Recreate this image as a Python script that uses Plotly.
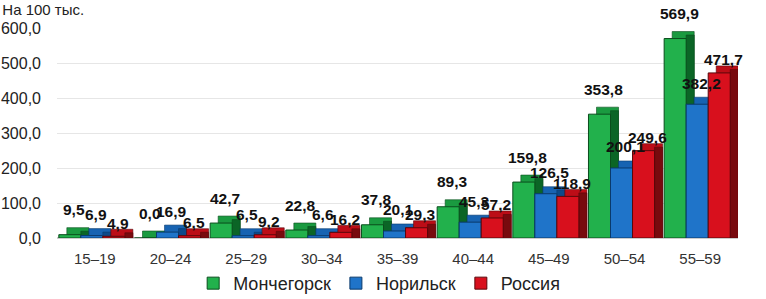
import plotly.graph_objects as go

categories = ["15–19", "20–24", "25–29", "30–34", "35–39", "40–44", "45–49", "50–54", "55–59"]
monchegorsk = [9.5, 0.0, 42.7, 22.8, 37.8, 89.3, 159.8, 353.8, 569.9]
norilsk = [6.9, 16.9, 6.5, 6.6, 20.1, 45.3, 126.5, 200.1, 382.2]
russia = [4.9, 6.5, 9.2, 16.2, 29.3, 57.2, 118.9, 249.6, 471.7]
y_ticks = [0, 100, 200, 300, 400, 500, 600]

# name, values, front colour, top colour, side colour, edge colour, label lift (px)
series = [
    ("Мончегорск", monchegorsk, "#22b14c", "#1a9a40", "#0b6526", "#0a4d1c", 25),
    ("Норильск", norilsk, "#1f74c9", "#1763b2", "#0c4a8a", "#0a3a6c", 21),
    ("Россия", russia, "#d8101d", "#bc0d17", "#780a0e", "#5a070a", 13),
]

W, H = 766, 299
ML, MR, MT, MB = 57, 28, 28, 61
Y_MAX = 600
slot_px = (W - ML - MR) / len(categories)
plot_h = H - MT - MB
units_per_px = Y_MAX / plot_h

BAR_W = 0.291        # front face width (category units)
GROUP_OFF = -0.476   # left edge of first bar from category centre
DX = 0.106           # 3D depth, horizontal (category units)
DY_PX = 7            # 3D depth, vertical (pixels)
DY = DY_PX * units_per_px

def fmt(v):
    return f"{v:.1f}".replace(".", ",")

fig = go.Figure()
for i, (name, vals, front, top, side, edge, lift) in enumerate(series):
    left = GROUP_OFF + i * BAR_W
    # top face / back (shifted copy of the bar)
    fig.add_trace(go.Bar(
        x=categories, y=[v + DY for v in vals], base=0,
        offset=left + DX, width=BAR_W,
        marker=dict(color=top, line=dict(color=edge, width=0.6)),
        showlegend=False, hoverinfo="skip",
    ))
    # side face
    fig.add_trace(go.Bar(
        x=categories, y=[v + DY / 2 for v in vals], base=0,
        offset=left + BAR_W, width=DX,
        marker=dict(color=side, line=dict(color=edge, width=0.6)),
        showlegend=False, hoverinfo="skip",
    ))
    # front face
    fig.add_trace(go.Bar(
        name=name, x=categories, y=vals,
        offset=left, width=BAR_W,
        marker=dict(color=front, line=dict(color=edge, width=1)),
    ))
    for c, v in zip(categories, vals):
        fig.add_annotation(
            x=c, y=v, xref="x", yref="y", text=f"<b>{fmt(v)}</b>", showarrow=False,
            xshift=(left + BAR_W / 2 + DX / 2) * slot_px, yshift=lift,
            font=dict(family="Liberation Sans, Arial", size=15.5, color="#111111"),
        )

fig.update_layout(
    width=W, height=H,
    margin=dict(l=ML, r=MR, t=MT, b=MB, autoexpand=False),
    paper_bgcolor="white", plot_bgcolor="white",
    barmode="overlay",
    separators=", ",
    font=dict(family="Liberation Sans, Arial", size=15, color="#222222"),
    title=dict(text="На 100 тыс.", x=0.003, xanchor="left", xref="container",
               y=0.985, yanchor="top", yref="container",
               font=dict(size=15, color="#222222")),
    showlegend=True,
    legend=dict(orientation="h", x=0.495, xanchor="center", xref="container",
                y=0.052, yanchor="middle", yref="container",
                font=dict(size=18, color="#222222"), traceorder="normal"),
)
fig.update_xaxes(range=[-0.5, len(categories) - 0.5], showline=False, ticks="",
                 tickfont=dict(size=15, color="#333333"), ticklabelstandoff=10)
fig.update_yaxes(range=[0, Y_MAX], tickvals=y_ticks, tickformat=".1f",
                 showgrid=True, gridcolor="#e6e6e6", gridwidth=1,
                 zeroline=True, zerolinecolor="#cccccc",
                 tickfont=dict(size=16, color="#222222"), ticks="", ticklabelstandoff=15)

fig.write_html("out.html", config={"displayModeBar": False},
               post_script="document.body.style.margin='0';document.body.style.padding='0';")
